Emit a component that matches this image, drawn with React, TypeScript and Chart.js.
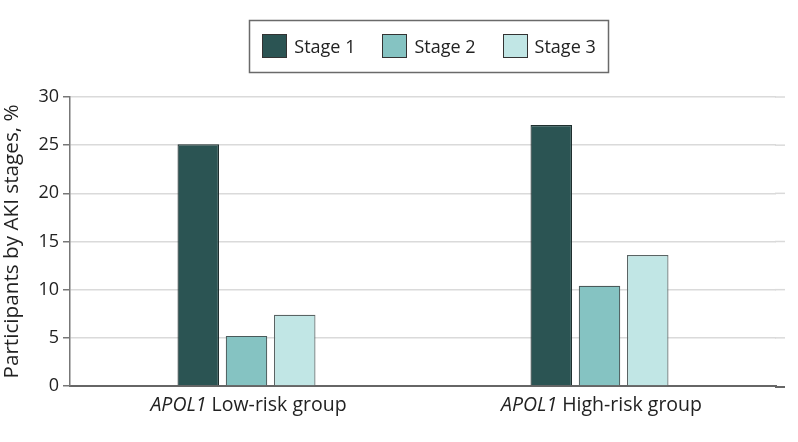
import React, { useEffect, useRef } from "react";
import { Chart, registerables } from "chart.js";

Chart.register(...registerables);

// ---- Data ----
const categoryPrefix = "APOL1";
const categories = ["Low-risk group", "High-risk group"];
const seriesLabels = ["Stage 1", "Stage 2", "Stage 3"];
const stage1Values = [25.1, 27.1];
const stage2Values = [5.2, 10.4];
const stage3Values = [7.4, 13.6];
const yTickValues = [0, 5, 10, 15, 20, 25, 30];
const yAxisTitle = "Participants by AKI stages, %";

// ---- Styles ----
const FONT = "'Open Sans', 'Noto Sans', sans-serif";
const fillColors = ["#2b5453", "#85c3c2", "#c1e6e5"];
const strokeColors = ["#1f2f2f", "#4a5a5a", "#5a6464"];
const TEXT = "#222222";
const FRAME_EXTRA = 9;

const overlayPlugin = {
  id: "overlay",
  afterDraw(chart: any) {
    const ctx: CanvasRenderingContext2D = chart.ctx;
    const area = chart.chartArea;
    const xScale = chart.scales.x;
    const yScale = chart.scales.y;
    ctx.save();

    // extend gridlines and baseline a little past the category area
    ctx.lineWidth = 1.5;
    ctx.strokeStyle = "#dadada";
    yTickValues.forEach((v) => {
      if (v === 0) return;
      const py = yScale.getPixelForValue(v);
      ctx.beginPath();
      ctx.moveTo(area.right - 1, py);
      ctx.lineTo(area.right + FRAME_EXTRA, py);
      ctx.stroke();
    });
    ctx.strokeStyle = "#666666";
    ctx.lineWidth = 2;
    ctx.beginPath();
    ctx.moveTo(area.right - 1, area.bottom + 1);
    ctx.lineTo(area.right + FRAME_EXTRA, area.bottom + 1);
    ctx.stroke();

    // Category labels with italic gene name
    ctx.fillStyle = TEXT;
    ctx.textAlign = "left";
    ctx.textBaseline = "alphabetic";
    const fs = 19.5;
    categories.forEach((label, i) => {
      const cx = xScale.getPixelForValue(i) + 2;
      ctx.font = `italic ${fs}px ${FONT}`;
      const w1 = ctx.measureText(categoryPrefix).width;
      ctx.font = `${fs}px ${FONT}`;
      const rest = " " + label;
      const w2 = ctx.measureText(rest).width;
      const sx = cx - (w1 + w2) / 2;
      const y = area.bottom + 25;
      ctx.font = `italic ${fs}px ${FONT}`;
      ctx.fillText(categoryPrefix, sx, y);
      ctx.font = `${fs}px ${FONT}`;
      ctx.fillText(rest, sx + w1, y);
    });

    // Bordered legend
    ctx.font = `18px ${FONT}`;
    const boxW = 25;
    const boxH = 24;
    const textGap = 7;
    const itemGap = 27;
    const pad = 13;
    const items = chart.data.datasets.map((ds: any, i: number) => ({
      text: ds.label,
      fill: fillColors[i],
      w: boxW + textGap + ctx.measureText(ds.label).width,
    }));
    const total =
      items.reduce((s: number, it: any) => s + it.w, 0) + itemGap * (items.length - 1);
    const center = (area.left + area.right + FRAME_EXTRA) / 2 + 1.5;
    const legendTop = 20.5;
    const legendH = 52;
    const startX = center - total / 2;
    ctx.strokeStyle = "#6a6a6a";
    ctx.lineWidth = 1.5;
    ctx.strokeRect(Math.round(startX - pad) + 0.5, legendTop, Math.round(total + 2 * pad), legendH);
    let x = startX;
    const boxTop = 34;
    items.forEach((it: any) => {
      ctx.fillStyle = it.fill;
      ctx.fillRect(Math.round(x), boxTop, boxW, boxH);
      ctx.strokeStyle = "#333333";
      ctx.lineWidth = 1;
      ctx.strokeRect(Math.round(x) + 0.5, boxTop + 0.5, boxW - 1, boxH - 1);
      ctx.fillStyle = TEXT;
      ctx.fillText(it.text, x + boxW + textGap, 53);
      x += it.w + itemGap;
    });

    ctx.restore();
  },
};

export default function App() {
  const canvasRef = useRef<HTMLCanvasElement | null>(null);

  useEffect(() => {
    if (!canvasRef.current) return;
    const values = [stage1Values, stage2Values, stage3Values];
    const chart = new Chart(canvasRef.current, {
      type: "bar",
      data: {
        labels: categories,
        datasets: seriesLabels.map((label, i) => ({
          label,
          data: values[i],
          backgroundColor: fillColors[i],
          borderColor: strokeColors[i],
          borderWidth: 1.2,
          borderSkipped: "start",
          categoryPercentage: 0.41,
          barPercentage: 0.86,
        })),
      },
      options: {
        responsive: true,
        maintainAspectRatio: false,
        animation: false,
        layout: { padding: { top: 97, right: 22, left: 0, bottom: 0 } },
        plugins: {
          legend: { display: false },
          tooltip: { enabled: false },
          title: { display: false },
        },
        scales: {
          x: {
            type: "category",
            offset: true,
            grid: { display: false },
            border: { display: true, color: "#666666", width: 2 },
            ticks: { display: false },
            afterFit: (s: any) => {
              s.height = 56;
            },
          },
          y: {
            min: 0,
            max: 30,
            afterBuildTicks: (s: any) => {
              s.ticks = yTickValues.map((v) => ({ value: v }));
            },
            ticks: {
              font: { family: FONT, size: 18 },
              color: TEXT,
              padding: 4,
            },
            grid: {
              color: "#dadada",
              lineWidth: 1.5,
              drawTicks: true,
              tickLength: 7,
              tickColor: "#777777",
            },
            border: { display: true, color: "#777777", width: 1.5 },
            title: {
              display: true,
              text: yAxisTitle,
              font: { family: FONT, size: 20.7 },
              color: TEXT,
              padding: { top: 0, bottom: 0 },
            },
            afterFit: (s: any) => {
              s.width = 70;
            },
          },
        },
      },
      plugins: [overlayPlugin],
    });
    return () => chart.destroy();
  }, []);

  return (
    <div style={{ position: "absolute", left: 0, top: 0, width: 798, height: 442 }}>
      <canvas ref={canvasRef} />
    </div>
  );
}
